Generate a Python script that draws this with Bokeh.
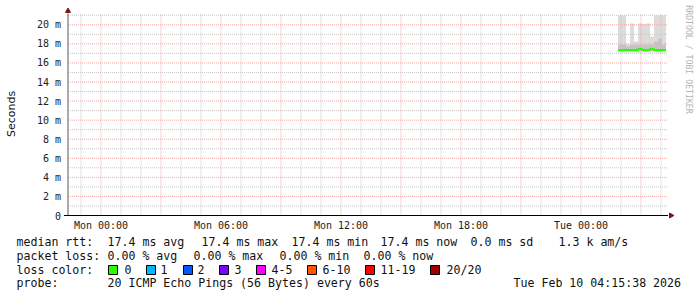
import math
from bokeh.plotting import figure
from bokeh.models import Range1d, Label
from bokeh.core.properties import value
from bokeh.embed import file_html
from bokeh.resources import INLINE

# ---------------- data (time in hours since Mon 00:00, values in ms) ----------------
step_edges = [25.85, 26.05, 26.25, 26.45, 26.65, 26.85, 27.05, 27.25, 27.45, 27.65, 27.85, 28.05, 28.25]
smoke_hi = [20.97, 20.97, 17.98, 20.14, 18.25, 20.14, 20.08, 20.14, 18.77, 20.97, 20.97, 20.97]
smoke_lo = [17.10, 17.10, 17.10, 17.10, 17.10, 17.10, 17.10, 17.10, 17.10, 17.10, 17.10, 17.10]
inner_hi = [17.90, 17.90, 17.75, 17.90, 17.90, 17.90, 17.90, 17.90, 17.90, 18.25, 18.55, 17.90]
inner_lo = [17.25, 17.25, 17.25, 17.25, 17.25, 17.25, 17.25, 17.25, 17.25, 17.25, 17.25, 17.25]
median_rtt = [17.35, 17.35, 17.35, 17.35, 17.35, 17.45, 17.35, 17.35, 17.45, 17.35, 17.35, 17.35]

x_ticks = [0, 6, 12, 18, 24]
x_tick_labels = ["Mon 00:00", "Mon 06:00", "Mon 12:00", "Mon 18:00", "Tue 00:00"]
x_major_grid = [0, 3, 6, 9, 12, 15, 18, 21, 24, 27]
x_minor_grid = [-1, 1, 2, 4, 5, 7, 8, 10, 11, 13, 14, 16, 17, 19, 20, 22, 23, 25, 26, 28]
y_ticks = [0, 2, 4, 6, 8, 10, 12, 14, 16, 18, 20]
y_tick_labels = ["0", "2 m", "4 m", "6 m", "8 m", "10 m", "12 m", "14 m", "16 m", "18 m", "20 m"]
y_major_grid = [2, 4, 6, 8, 10, 12, 14, 16, 18, 20]
y_minor_grid = [1, 3, 5, 7, 9, 11, 13, 15, 17, 19, 21]

row1 = ["median rtt:", "17.4 ms avg", "17.4 ms max", "17.4 ms min", "17.4 ms now", "0.0 ms sd", "1.3 k am/s"]
row2 = ["packet loss:", "0.00 % avg", "0.00 % max", "0.00 % min", "0.00 % now"]
loss_labels = ["0", "1", "2", "3", "4-5", "6-10", "11-19", "20/20"]
loss_colors = ["#26ff00", "#00b8ff", "#0059ff", "#7e00ff", "#ff00ff", "#ff5500", "#ff0000", "#a10000"]
row4 = ["probe:", "20 ICMP Echo Pings (56 Bytes) every 60s", "Tue Feb 10 04:15:38 2026"]

# ---------------- layout ----------------
W, H = 697, 297
PX_PER_H = 20.0          # pixels per hour
PX_PER_MS = 9.535        # pixels per ms
ORIGIN_X, ORIGIN_Y = 100.5, 215.0   # canvas position of Mon 00:00 / 0 ms
X0, X1 = -1.65, 28.35    # graph area in hours
Y0, Y1 = 0.0, 21.19      # graph area in ms

tx0 = -ORIGIN_X / PX_PER_H
my0 = -(H - ORIGIN_Y) / PX_PER_MS

p = figure(width=W, height=H, x_range=Range1d(0, W), y_range=Range1d(H, 0),
           x_axis_location=None, y_axis_location=None,
           output_backend="svg", toolbar_location=None,
           min_border=0, min_border_left=0, min_border_right=0, min_border_top=0, min_border_bottom=0)
p.outline_line_color = None
p.background_fill_color = "white"
p.border_fill_color = "white"
p.grid.visible = False
p.extra_x_ranges = {"t": Range1d(tx0, tx0 + W / PX_PER_H)}
p.extra_y_ranges = {"ms": Range1d(my0, my0 + H / PX_PER_MS)}
D = dict(x_range_name="t", y_range_name="ms")

MONO = "DejaVu Sans Mono"
MINOR = "#c6c6c6"
MAJOR = "#f2a6a6"

# smoke
p.quad(left=step_edges[:-1], right=step_edges[1:], bottom=smoke_lo, top=smoke_hi,
       fill_color="#dcdcdc", line_color=None, **D)
p.quad(left=step_edges[:-1], right=step_edges[1:], bottom=inner_lo, top=inner_hi,
       fill_color="#c4c4c4", line_color=None, **D)

# grid (drawn over smoke, like rrdtool)
p.segment(x0=x_minor_grid, x1=x_minor_grid, y0=Y0, y1=Y1, line_color=MINOR, line_dash="1 1", **D)
p.segment(x0=X0, x1=X1, y0=y_minor_grid, y1=y_minor_grid, line_color=MINOR, line_dash="1 1", **D)
p.segment(x0=x_major_grid, x1=x_major_grid, y0=Y0, y1=Y1, line_color=MAJOR, line_dash="1 1", **D)
p.segment(x0=X0, x1=X1, y0=y_major_grid, y1=y_major_grid, line_color=MAJOR, line_dash="1 1", **D)

# median line
p.step(x=step_edges, y=median_rtt + [median_rtt[-1]], mode="after",
       line_color="#26ff00", line_width=2, **D)

# axes
p.segment(x0=X0, x1=X0, y0=Y0, y1=Y1, line_color="#5a5a5a", line_width=1, **D)
p.segment(x0=X0 - 4 / PX_PER_H, x1=X1, y0=Y0, y1=Y0, line_color="black", line_width=1, **D)
ARROW = "#7a1414"
p.scatter(x=X0, y=Y1 + 2.5 / PX_PER_MS, marker="triangle", size=5, angle=0,
          fill_color=ARROW, line_color=ARROW, **D)
p.scatter(x=X1 + 3 / PX_PER_H, y=Y0, marker="triangle", size=5, angle=-math.pi / 2,
          fill_color=ARROW, line_color=ARROW, **D)

p.text(x=X0, y=y_ticks, text=y_tick_labels, x_offset=-7, text_align="right", text_baseline="middle",
       text_font=value(MONO), text_font_size="10px", text_color="#222222", **D)
p.text(x=x_ticks, y=Y0, text=x_tick_labels, y_offset=9.5, text_align="center", text_baseline="middle",
       text_font=value(MONO), text_font_size="10px", text_color="#222222", **D)


def lab(text, cx, cy, size="11.6px", font=MONO, align="left", angle=0.0, color="#111111"):
    p.add_layout(Label(x=cx, y=cy, text=text, text_font=font, text_font_size=size,
                       text_align=align, text_baseline="middle", angle=angle, text_color=color))


lab("Seconds", 11, 113.5, size="11px", font="DejaVu Sans", align="center", angle=math.pi / 2)
lab("RRDTOOL / TOBI OETIKER", 688, 59, size="8.2px", align="center", angle=-math.pi / 2, color="#b4b4b4")

for t, cx in zip(row1, [16, 107, 201, 291, 380, 470, 558]):
    lab(t, cx, 241.5)
for t, cx in zip(row2, [16, 107, 193, 279, 363]):
    lab(t, cx, 255)
lab("loss color:", 16, 269)
box_x = [108, 146, 183, 219, 256, 307, 365, 430]
p.quad(left=box_x, right=[b + 9 for b in box_x], top=265, bottom=274,
       fill_color=loss_colors, line_color="black", line_width=1)
for t, tx in zip(loss_labels, [124, 160, 197, 234, 271, 322, 380, 446]):
    lab(t, tx, 269)
for t, cx in zip(row4, [16, 107, 513]):
    lab(t, cx, 282.7)

open("out.html", "w").write(file_html(p, INLINE))
